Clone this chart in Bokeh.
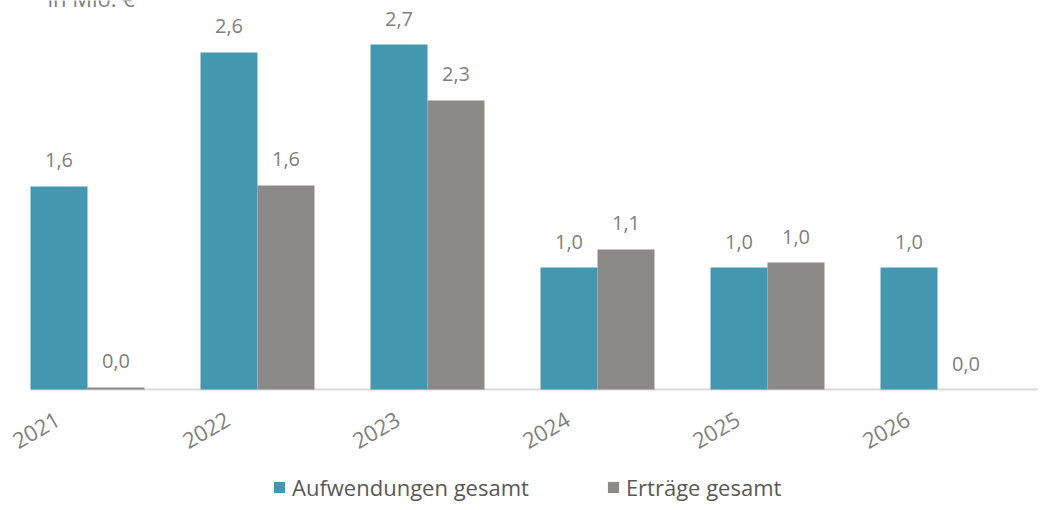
import numpy as np
from bokeh.plotting import figure
from bokeh.models import ColumnDataSource, Range1d, Legend, LegendItem
from bokeh.core.properties import value
from bokeh.embed import file_html
from bokeh.resources import INLINE

# ---- data ----
years = ["2021", "2022", "2023", "2024", "2025", "2026"]
aufwendungen = [1.586, 2.633, 2.695, 0.953, 0.953, 0.953]
ertraege = [0.016, 1.594, 2.258, 1.094, 0.992, 0.0]
series_names = ["Aufwendungen gesamt", "Erträge gesamt"]
unit_label = "in Mio. €"

TEAL = "#4398B0"
GREY = "#8B8A88"
LABEL_GREY = "#7f7f7f"
FONT = value("Open Sans")

W, H = 1038, 502
cat_px = 170.0          # pixels per category
first_center_px = 87.0  # canvas x of first category centre
base_px = 389.0         # canvas y of baseline (from top)
unit_px = 128.0         # pixels per 1 Mio

x = np.arange(len(years), dtype=float)
bw = 57.0 / cat_px

p = figure(width=W, height=H, output_backend="svg", toolbar_location=None,
           x_range=Range1d(-first_center_px / cat_px, (W - first_center_px) / cat_px),
           y_range=Range1d(-(H - base_px) / unit_px, base_px / unit_px),
           x_axis_location=None, y_axis_location=None,
           min_border=0, outline_line_color=None, background_fill_color="white")
p.grid.visible = False

fmt = lambda v: f"{v:.1f}".replace(".", ",")

src_a = ColumnDataSource(dict(x=x - bw / 2, top=aufwendungen, lab=[fmt(v) for v in aufwendungen]))
src_e = ColumnDataSource(dict(x=x + bw / 2, top=ertraege, lab=[fmt(v) for v in ertraege]))
src_y = ColumnDataSource(dict(x=x - bw / 2, y=[-21.0 / unit_px] * len(years), lab=years))

# baseline
p.segment(x0=[x[0] - bw], y0=[0], x1=[p.x_range.end], y1=[0], line_color="#d9d9d9", line_width=2)

r_a = p.vbar(x="x", top="top", width=bw, source=src_a, fill_color=TEAL, line_color=None)
r_e = p.vbar(x="x", top="top", width=bw, source=src_e, fill_color=GREY, line_color=None)

for s in (src_a, src_e):
    p.text(x="x", y="top", text="lab", source=s, text_align="center", text_baseline="alphabetic",
           y_offset=-26, text_font=FONT, text_font_size="20px", text_color=LABEL_GREY)

p.text(x="x", y="y", text="lab", source=src_y, angle=np.pi / 6, text_align="right",
       text_baseline="top", x_offset=-5, text_font=FONT, text_font_size="22px",
       text_color=LABEL_GREY)

# unit caption (cut at the top edge, as in the reference)
p.text(x=[(47 - first_center_px) / cat_px], y=[(base_px + 3) / unit_px], text=[unit_label],
       text_align="left", text_baseline="alphabetic", text_font=FONT, text_font_size="22px",
       text_color=LABEL_GREY)

legend = Legend(items=[LegendItem(label=series_names[0], renderers=[r_a]),
                       LegendItem(label=series_names[1], renderers=[r_e])],
                orientation="horizontal", location=(272, 0), spacing=77,
                glyph_width=14, glyph_height=14, label_standoff=6, padding=0, margin=0,
                border_line_alpha=0, background_fill_alpha=0,
                label_text_font="Open Sans", label_text_font_size="22px",
                label_text_color="#595959")
p.add_layout(legend)

open("out.html", "w").write(file_html(p, INLINE))
